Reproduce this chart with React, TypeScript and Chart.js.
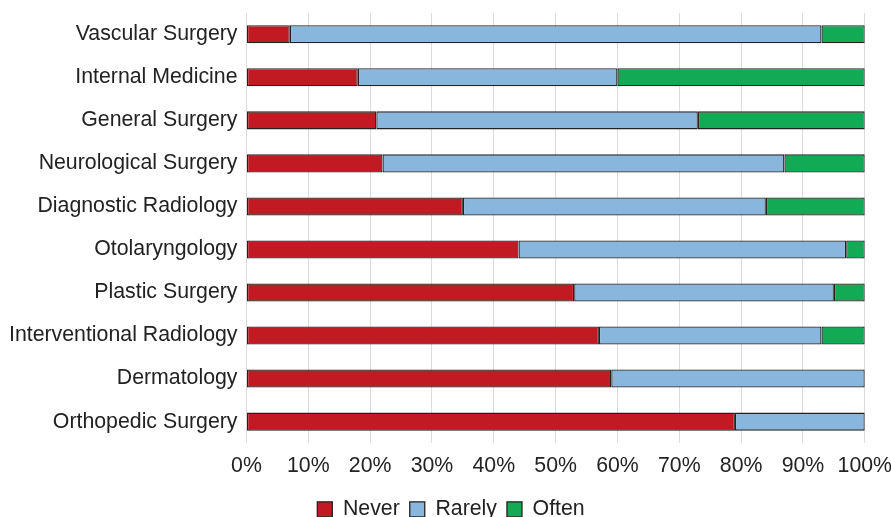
import React, { useEffect, useRef } from "react";
import { Chart, registerables } from "chart.js";

Chart.register(...registerables);

const categories = [
  "Vascular Surgery",
  "Internal Medicine",
  "General Surgery",
  "Neurological Surgery",
  "Diagnostic Radiology",
  "Otolaryngology",
  "Plastic Surgery",
  "Interventional Radiology",
  "Dermatology",
  "Orthopedic Surgery",
];
const neverValues = [7, 18, 21, 22, 35, 44, 53, 57, 59, 79];
const rarelyValues = [86, 42, 52, 65, 49, 53, 42, 36, 41, 21];
const oftenValues = [7, 40, 27, 13, 16, 3, 5, 7, 0, 0];
const seriesNames = ["Never", "Rarely", "Often"];
const seriesColors = ["#C11A22", "#88B6DD", "#13AA56"];

export default function App() {
  const ref = useRef<HTMLCanvasElement | null>(null);
  useEffect(() => {
    if (!ref.current) return;
    const font = { family: "'Liberation Sans', Arial, sans-serif", size: 21.3 };
    const series = [neverValues, rarelyValues, oftenValues];
    const chart = new Chart(ref.current, {
      type: "bar",
      data: {
        labels: categories,
        datasets: series.map((d, i) => ({
          label: seriesNames[i],
          data: d,
          backgroundColor: seriesColors[i],
          borderColor: "#222",
          borderWidth: 1.3,
          borderSkipped: false,
          categoryPercentage: 1,
          barPercentage: 0.42,
        })),
      },
      options: {
        indexAxis: "y",
        animation: false,
        responsive: true,
        maintainAspectRatio: false,
        layout: { padding: { top: 0, right: 0, left: 0, bottom: -4 } },
        scales: {
          x: {
            stacked: true,
            min: 0,
            max: 100,
            ticks: {
              stepSize: 10,
              color: "#222",
              font,
              padding: 10,
              maxRotation: 0,
              callback: (v: any) => v + "%",
            },
            grid: { color: "#dcdcdc", drawTicks: false },
            border: { display: false },
          },
          y: {
            stacked: true,
            ticks: { color: "#222", font, padding: 9 },
            grid: { display: false, drawTicks: false },
            border: { display: false },
          },
        },
        plugins: {
          legend: {
            position: "bottom",
            labels: {
              color: "#222",
              font,
              boxWidth: 15,
              boxHeight: 15,
              padding: 10,
            },
          },
          tooltip: { enabled: false },
        },
      },
    });
    return () => chart.destroy();
  }, []);
  return (
    <div style={{ position: "fixed", left: 0, top: -9, width: 902, height: 535, background: "#fff" }}>
      <canvas ref={ref} />
    </div>
  );
}
